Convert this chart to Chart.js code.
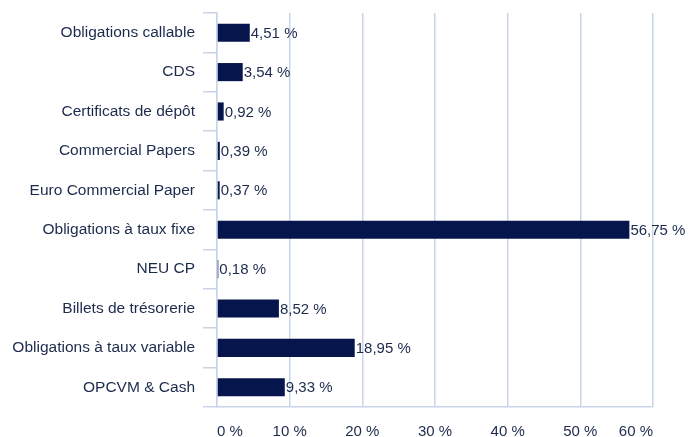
<!DOCTYPE html>
<html>
<head>
<meta charset="utf-8">
<script src="https://cdn.jsdelivr.net/npm/chart.js@4"></script>
<style>
    html, body { margin: 0; padding: 0; background: #ffffff; }
    #wrap { width: 688px; height: 437px; position: relative; }
</style>
</head>
<body>
<div id="wrap"><canvas id="allocChart"></canvas></div>
<script>
// Répartition par type d'instrument (%)
const categories = [
    'Obligations callable',
    'CDS',
    'Certificats de dépôt',
    'Commercial Papers',
    'Euro Commercial Paper',
    'Obligations à taux fixe',
    'NEU CP',
    'Billets de trésorerie',
    'Obligations à taux variable',
    'OPCVM & Cash'
];
const weights = [4.51, 3.54, 0.92, 0.39, 0.37, 56.75, 0.18, 8.52, 18.95, 9.33];
const xTicks = [0, 10, 20, 30, 40, 50, 60];

const barColor = '#06164d';
const textColor = '#1c2a4c';
const gridColor = '#c9d5e7';
const fontFamily = '"Liberation Sans", Arial, sans-serif';

function frPercent(v) {
    return v.toFixed(2).replace('.', ',') + ' %';
}

// draws the value right after the end of each bar
const valueLabels = {
    id: 'valueLabels',
    afterDatasetsDraw(chart) {
        const ctx = chart.ctx;
        const meta = chart.getDatasetMeta(0);
        ctx.save();
        ctx.font = '15px ' + fontFamily;
        ctx.fillStyle = textColor;
        ctx.textAlign = 'left';
        ctx.textBaseline = 'middle';
        meta.data.forEach((bar, i) => {
            ctx.fillText(frPercent(weights[i]), bar.x + 1, bar.y + 1);
        });
        ctx.restore();
    }
};

const ctx = document.getElementById('allocChart').getContext('2d');
new Chart(ctx, {
    type: 'bar',
    data: {
        labels: categories,
        datasets: [{
            data: weights,
            backgroundColor: barColor,
            borderWidth: 0,
            barPercentage: 0.46,
            categoryPercentage: 1
        }]
    },
    options: {
        indexAxis: 'y',
        responsive: true,
        maintainAspectRatio: false,
        animation: false,
        layout: {
            padding: { top: 13, right: 35, left: 0, bottom: 0 }
        },
        plugins: {
            legend: { display: false },
            tooltip: { enabled: false }
        },
        scales: {
            x: {
                min: 0,
                max: 60,
                afterBuildTicks(scale) {
                    scale.ticks = xTicks.map(v => ({ value: v }));
                },
                afterFit(scale) {
                    scale.height = 30;
                    scale.paddingLeft = 0;
                    scale.paddingRight = 0;
                },
                grid: {
                    color: gridColor,
                    lineWidth: 1.5,
                    drawTicks: false
                },
                border: { display: true, color: gridColor, width: 1.5 },
                ticks: {
                    align: 'inner',
                    padding: 16,
                    color: textColor,
                    font: { family: fontFamily, size: 15 },
                    callback: v => v + ' %'
                }
            },
            y: {
                afterFit(scale) {
                    scale.width = 217;
                    scale.paddingTop = 0;
                    scale.paddingBottom = 0;
                },
                grid: {
                    offset: true,
                    drawOnChartArea: false,
                    drawTicks: true,
                    tickLength: 14,
                    color: gridColor,
                    lineWidth: 1.5
                },
                border: { display: true, color: gridColor, width: 1.5 },
                ticks: {
                    padding: 8,
                    color: textColor,
                    font: { family: fontFamily, size: 15.5 }
                }
            }
        }
    },
    plugins: [valueLabels]
});
</script>
</body>
</html>
